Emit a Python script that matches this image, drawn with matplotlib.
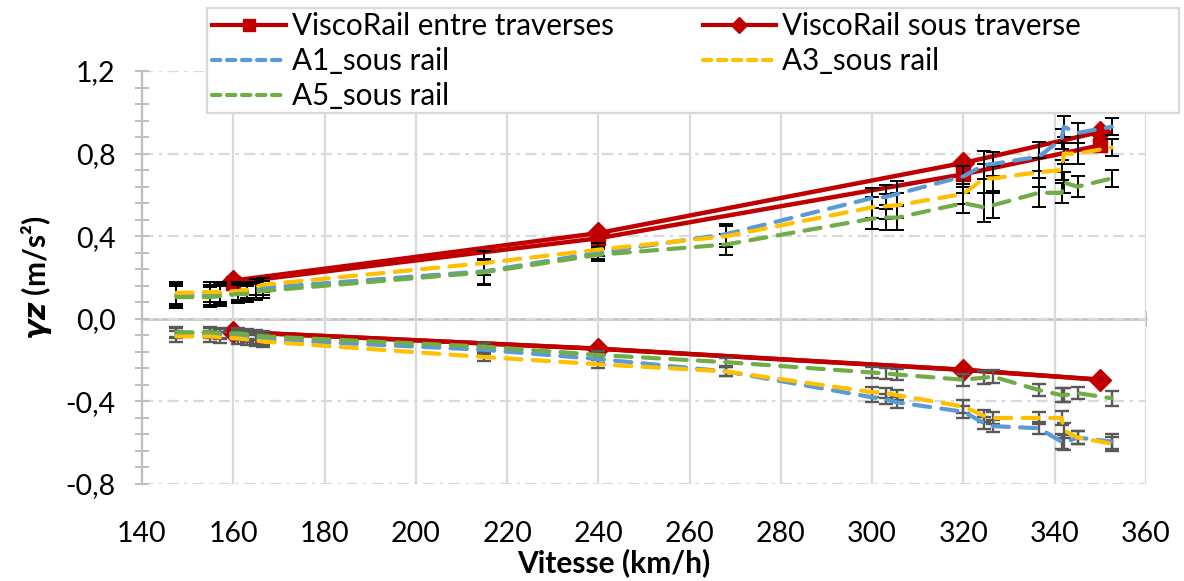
import matplotlib
matplotlib.use("Agg")
import matplotlib.pyplot as plt
from matplotlib.ticker import MultipleLocator, FuncFormatter
from matplotlib.patches import Rectangle
from matplotlib.lines import Line2D

plt.rcParams['font.family'] = ['Lato', 'DejaVu Sans']
plt.rcParams['mathtext.fontset'] = 'dejavusans'

# ---------------- data ----------------
speed_visco = [160, 240, 320, 350]
visco_entre_pos = [0.175, 0.39, 0.70, 0.84]
visco_sous_pos = [0.185, 0.415, 0.755, 0.905]
visco_entre_neg = [-0.063, -0.145, -0.247, -0.295]
visco_sous_neg = [-0.063, -0.145, -0.247, -0.295]

speed_mes = [147.5, 155, 157, 161, 163, 165, 166.5, 215, 240, 268, 300, 303,
             305.5, 320, 324.5, 326.5, 336.5, 341.5, 342, 345, 352.5]
a1_pos = [0.115, 0.115, 0.12, 0.125, 0.13, 0.14, 0.15, 0.23, 0.32, 0.41, 0.585,
          0.59, 0.605, 0.69, 0.745, 0.75, 0.785, 0.87, 0.93, 0.90, 0.93]
a3_pos = [0.125, 0.13, 0.13, 0.135, 0.14, 0.155, 0.165, 0.27, 0.335, 0.40, 0.54,
          0.545, 0.55, 0.605, 0.68, 0.68, 0.71, 0.72, 0.80, 0.80, 0.83]
a5_pos = [0.105, 0.105, 0.11, 0.12, 0.12, 0.13, 0.135, 0.225, 0.31, 0.36, 0.485,
          0.49, 0.49, 0.56, 0.54, 0.55, 0.61, 0.61, 0.66, 0.64, 0.68]
a1_neg = [-0.07, -0.07, -0.075, -0.08, -0.085, -0.095, -0.10, -0.15, -0.195,
          -0.255, -0.38, -0.39, -0.405, -0.45, -0.505, -0.52, -0.53, -0.595,
          -0.60, -0.575, -0.595]
a3_neg = [-0.085, -0.085, -0.09, -0.095, -0.10, -0.105, -0.11, -0.185, -0.22,
          -0.255, -0.355, -0.36, -0.37, -0.425, -0.47, -0.48, -0.48, -0.48,
          -0.54, -0.575, -0.605]
a5_neg = [-0.065, -0.065, -0.07, -0.07, -0.075, -0.08, -0.085, -0.135, -0.175,
          -0.21, -0.26, -0.265, -0.27, -0.295, -0.285, -0.28, -0.345, -0.37,
          -0.37, -0.36, -0.385]
err_pos = [0.055, 0.05, 0.05, 0.045, 0.04, 0.04, 0.035, 0.06, 0.03, 0.05, 0.05,
           0.06, 0.06, 0.05, 0.07, 0.06, 0.07, 0.05, 0.05, 0.05, 0.04]
err_neg = [0.025, 0.025, 0.025, 0.025, 0.025, 0.025, 0.025, 0.02, 0.02, 0.02,
           0.025, 0.025, 0.025, 0.03, 0.03, 0.03, 0.03, 0.035, 0.035, 0.03, 0.035]

xticks = [140, 160, 180, 200, 220, 240, 260, 280, 300, 320, 340, 360]

# ---------------- figure ----------------
W, H = 1184, 581
fig = plt.figure(figsize=(W / 100, H / 100), dpi=100)
ax = fig.add_axes([142 / W, 97 / H, (1146 - 142) / W, (484 - 71) / H])
ax.set_xlim(140, 360)
ax.set_ylim(-0.8, 1.2)

red = '#C00000'
blue = '#5B9BD5'
yellow = '#FFC000'
green = '#70AD47'
gridc = '#D9D9D9'
axc = '#BFBFBF'

# red lines
ax.plot(speed_visco, visco_entre_pos, color=red, lw=3.2, marker='s', ms=10, zorder=2)
ax.plot(speed_visco, visco_sous_pos, color=red, lw=3.2, marker='D', ms=11, zorder=2)
ax.plot(speed_visco, visco_entre_neg, color=red, lw=3.2, zorder=2)
ax.plot(speed_visco, visco_sous_neg, color=red, lw=3.2, marker='D', ms=11, zorder=2)

dash_kw = dict(lw=3.0, dashes=(3.9, 2.7), dash_capstyle='round', zorder=4)
for vals, col in [(a1_pos, blue), (a3_pos, yellow), (a5_pos, green)]:
    ax.errorbar(speed_mes, vals, yerr=err_pos, fmt='none', ecolor='black',
                elinewidth=1.4, capsize=4.7, capthick=1.4, zorder=3)
    ax.plot(speed_mes, vals, color=col, **dash_kw)
for vals, col in [(a1_neg, blue), (a3_neg, yellow), (a5_neg, green)]:
    ax.errorbar(speed_mes, vals, yerr=err_neg, fmt='none', ecolor='#595959',
                elinewidth=1.7, capsize=4.7, capthick=1.7, zorder=3)
    ax.plot(speed_mes, vals, color=col, **dash_kw)

# axes styling
for s in ['top', 'right', 'bottom']:
    ax.spines[s].set_visible(False)
ax.spines['left'].set_color(axc)
ax.spines['left'].set_linewidth(1.6)

ax.yaxis.set_major_locator(MultipleLocator(0.4))
ax.yaxis.set_minor_locator(MultipleLocator(0.08))
ax.yaxis.set_major_formatter(FuncFormatter(lambda v, p: f"{v:.1f}".replace('.', ',').replace('-0,0', '0,0')))
ax.tick_params(axis='y', which='both', direction='inout', length=10, width=1.4,
               color=axc, labelsize=20.5, pad=14)
ax.set_xticks(xticks)
ax.tick_params(axis='x', which='both', length=0, labelsize=20.5, pad=27)

ax.grid(axis='x', color=gridc, lw=1.6, ls='-', zorder=0)
ax.grid(axis='y', color=gridc, lw=1.6, ls=(0, (5, 2.5, 1.5, 2.5)), zorder=0)
ax.set_axisbelow(True)

# x axis line at y = 0
sec = ax.secondary_xaxis(0.4)
sec.spines['bottom'].set_color(axc)
sec.spines['bottom'].set_linewidth(1.8)
sec.set_xticks(xticks)
sec.tick_params(axis='x', direction='inout', length=12, width=1.4, color=axc,
                labelbottom=False)

ax.set_xlabel("Vitesse (km/h)", fontsize=21.5, fontweight='bold')
ax.xaxis.set_label_coords((614 - 142) / (1146 - 142), -(548 - 484) / (484 - 71))
ax.set_ylabel(r"$\mathbfit{\gamma z}$ (m/s²)", fontsize=21.5, fontweight='bold', labelpad=8)

# legend
lkw = dict(lw=3.0, dashes=(2.0, 1.6), dash_capstyle='round')
handles = [
    Line2D([], [], color=red, lw=3, marker='s', ms=8),
    Line2D([], [], color=blue, **lkw),
    Line2D([], [], color=green, **lkw),
    Line2D([], [], color=red, lw=3, marker='D', ms=8),
    Line2D([], [], color=yellow, **lkw),
]
labels = ["ViscoRail entre traverses", "A1_sous rail", "A5_sous rail",
          "ViscoRail sous traverse", "A3_sous rail"]
fig.patches.append(Rectangle((207 / W, 1 - 113 / H), (1179 - 207) / W, 105 / H,
                             transform=fig.transFigure, facecolor='white',
                             edgecolor=gridc, lw=1.6, zorder=5))
leg = fig.legend(handles, labels, ncol=2, loc='upper left',
                 bbox_to_anchor=(212 / W, 1 - 12 / H), frameon=False,
                 fontsize=21.3, handlelength=2.5, handletextpad=0.2,
                 columnspacing=3.0, labelspacing=0.24, borderpad=0.0,
                 borderaxespad=0.0)
leg.set_zorder(6)

fig.savefig("out.png", dpi=100)
